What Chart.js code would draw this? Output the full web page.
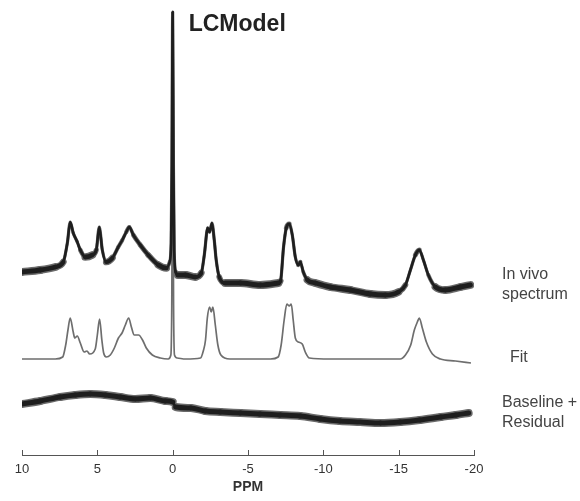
<!DOCTYPE html>
<html lang="en">
<head>
  <meta charset="UTF-8">
  <title>LCModel</title>
  <script src="https://cdn.jsdelivr.net/npm/chart.js"></script>
  <style>
    body {
      margin: 0;
      background: #fff;
    }
    .chart-container {
      position: relative;
      width: 580px;
      height: 501px;
    }
  </style>
</head>
<body>
  <div class="chart-container">
    <canvas id="spectrumChart"></canvas>
  </div>

  <script>
    // chemical shift axis
    const xTicks = [10, 5, 0, -5, -10, -15, -20];

    // in vivo spectrum (a.u., stacked display)
    const inVivoPpm = [10.0, 8.79, 7.79, 7.26, 6.99, 6.8, 6.6, 6.33, 6.13, 5.8, 5.34, 5.07, 4.87, 4.67, 4.41, 4.0,
      3.61, 3.34, 3.08, 2.88, 2.61, 2.15, 1.62, 0.95, 0.42, 0.2, 0.1, 0.05, 0, -0.05, -0.1, -0.2, -0.35,
      -0.84, -1.5, -1.9, -2.1, -2.33, -2.45, -2.61, -2.76, -2.89, -3.09, -3.49, -4.49, -5.81, -7.01, -7.16,
      -7.36, -7.54, -7.74, -7.94, -8.14, -8.34, -8.47, -8.67, -8.94, -9.47, -10.46, -11.79, -13.12, -14.11,
      -14.98, -15.45, -15.78, -16.11, -16.37, -16.64, -16.97, -17.44, -18.1, -19.1, -19.76];
    const inVivoVal = [183, 185, 188, 193, 212, 233, 222, 213, 205, 198, 200, 205, 228, 205, 193, 197,
      208, 215, 223, 228, 220, 210, 200, 190, 187, 193, 212, 290, 443, 290, 205, 183, 180,
      180, 178, 182, 200, 227, 223, 232, 215, 195, 178, 172, 172, 170, 172, 174,
      208, 227, 231, 220, 198, 190, 193, 183, 175, 172, 168, 165, 161, 160,
      163, 170, 185, 200, 205, 195, 180, 168, 165, 168, 170];

    // LCModel fit
    const fitPpm = [10.0, 7.79, 7.3, 7.1, 6.95, 6.8, 6.6, 6.5, 6.33, 6.13, 5.87, 5.69, 5.51, 5.14, 5.0, 4.85,
      4.7, 4.58, 4.4, 4.14, 3.87, 3.6, 3.36, 3.14, 2.92, 2.74, 2.55, 2.26, 2.0, 1.75, 1.35, 0.82, 0.3,
      0.12, 0.06, 0, -0.06, -0.12, -0.3, -0.85, -1.85, -2.05, -2.18, -2.3, -2.45, -2.56, -2.67, -2.83,
      -3.0, -3.2, -3.8, -6.5, -7.0, -7.2, -7.4, -7.58, -7.74, -7.87, -8.0, -8.14, -8.34, -8.6, -8.8,
      -9.07, -10.45, -15.1, -15.45, -15.8, -16.04, -16.24, -16.37, -16.57, -16.84, -17.24, -17.77,
      -18.77, -19.8];
    const fitVal = [96, 96, 98, 110, 125, 137, 123, 117, 119, 112, 103, 104, 101, 106, 120, 136,
      115, 102, 98, 100, 107, 117, 122, 130, 137, 128, 120, 120, 115, 107, 100, 97, 96,
      100, 150, 351, 150, 100, 97, 96, 97, 105, 115, 137, 148, 143, 148, 130,
      110, 100, 96, 96, 98, 110, 135, 151, 149, 151, 135, 117, 113, 111, 103,
      97, 96, 96, 100, 110, 125, 133, 137, 127, 113, 101, 96,
      94, 92];

    // baseline + residual
    const residualPpm = [10, 8.79, 7.46, 6.46, 5.47, 4.47, 3.48, 2.48, 1.48, 0.49, 0.0, -0.2, -1.2, -2.17,
      -3.16, -4.5, -5.8, -7.14, -8.47, -9.8, -11.1, -12.45, -13.8, -15.1, -16.4, -17.8, -18.8, -19.65];
    const residualVal = [51, 54, 58, 60, 61, 60, 58, 56, 57, 54, 53, 48, 47, 44,
      43, 42, 41, 40, 39, 36, 34, 33, 32, 33, 35, 38, 40, 42];

    const traceLabels = [['In vivo', 'spectrum'], ['Fit'], ['Baseline +', 'Residual']];

    const toPoints = (ppm, val) => ppm.map((p, i) => ({ x: p, y: val[i] }));

    // noisy traces: keep a constant vertical band, so thin the stroke on steep parts
    const noiseBand = (band, least) => (ctx) => {
      const dx = ctx.p1.x - ctx.p0.x;
      const dy = ctx.p1.y - ctx.p0.y;
      const len = Math.hypot(dx, dy) || 1;
      return Math.max(least, band * Math.abs(dx) / len);
    };

    const noisyTrace = (label, ppm, val) => ([
      {
        label: label,
        data: toPoints(ppm, val),
        borderColor: '#1e1e1e',
        borderCapStyle: 'round',
        borderJoinStyle: 'round',
        cubicInterpolationMode: 'monotone',
        segment: { borderWidth: noiseBand(5, 2.6) },
        order: 0
      },
      {
        label: label + ' (noise)',
        data: toPoints(ppm, val),
        borderColor: '#6a6a6a',
        borderCapStyle: 'round',
        borderJoinStyle: 'round',
        cubicInterpolationMode: 'monotone',
        segment: { borderWidth: noiseBand(8, 3.2) },
        order: 2
      }
    ]);

    const overlay = {
      id: 'overlay',
      afterDraw(chart) {
        const { ctx, chartArea, scales: { x, y } } = chart;
        ctx.save();

        // tick marks pointing up from the axis
        ctx.strokeStyle = '#555';
        ctx.lineWidth = 1;
        x.ticks.forEach((t, i) => {
          const px = Math.round(x.getPixelForTick(i)) + 0.5;
          ctx.beginPath();
          ctx.moveTo(px, chartArea.bottom);
          ctx.lineTo(px, chartArea.bottom - 5);
          ctx.stroke();
        });

        // title
        ctx.fillStyle = '#222';
        ctx.font = 'bold 23px "Liberation Sans", Arial, sans-serif';
        ctx.textBaseline = 'alphabetic';
        ctx.textAlign = 'left';
        ctx.fillText('LCModel', x.getPixelForValue(0) + 16, 31);

        // trace labels on the right
        ctx.fillStyle = '#444';
        ctx.font = '16px "Liberation Sans", Arial, sans-serif';
        ctx.textBaseline = 'middle';
        const ends = [inVivoVal, fitVal, residualVal];
        traceLabels.forEach((lines, k) => {
          const last = ends[k][ends[k].length - 1];
          const cy = y.getPixelForValue(last);
          const lx = chartArea.right + (k === 1 ? 36 : 28);
          const top = cy - (lines.length - 1) * 10 + (k === 1 ? -5 : 0);
          lines.forEach((s, j) => ctx.fillText(s, lx, top + j * 19.5));
        });
        ctx.restore();
      }
    };

    new Chart(document.getElementById('spectrumChart').getContext('2d'), {
      type: 'line',
      data: {
        datasets: [
          ...noisyTrace('In vivo spectrum', inVivoPpm, inVivoVal),
          {
            label: 'Fit',
            data: toPoints(fitPpm, fitVal),
            borderColor: '#6e6e6e',
            borderWidth: 1.7,
            cubicInterpolationMode: 'monotone',
            order: 1
          },
          ...noisyTrace('Baseline + Residual', residualPpm, residualVal)
        ]
      },
      options: {
        responsive: true,
        maintainAspectRatio: false,
        animation: false,
        devicePixelRatio: 1,
        layout: { padding: { left: 22, right: 106, top: 0, bottom: 0 } },
        elements: { point: { radius: 0 } },
        scales: {
          x: {
            type: 'linear',
            reverse: true,
            min: -20,
            max: 10,
            afterFit: (scale) => { scale.height = 46; },
            grid: { display: false, drawTicks: false },
            border: { display: true, color: '#555', width: 1 },
            ticks: {
              stepSize: 5,
              padding: 7,
              color: '#333',
              font: { family: '"Liberation Sans", Arial, sans-serif', size: 13 }
            },
            afterBuildTicks: (scale) => { scale.ticks = xTicks.map(v => ({ value: v })); },
            title: {
              display: true,
              text: 'PPM',
              color: '#333',
              padding: { top: 0, bottom: 5 },
              font: { family: '"Liberation Sans", Arial, sans-serif', size: 14, weight: 'bold' }
            }
          },
          y: {
            display: false,
            min: 0,
            max: 455
          }
        },
        plugins: {
          legend: { display: false },
          tooltip: { enabled: false }
        }
      },
      plugins: [overlay]
    });
  </script>
</body>
</html>
